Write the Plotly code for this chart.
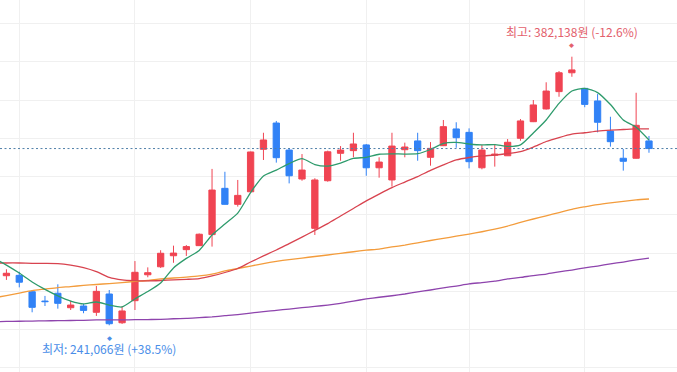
import plotly.graph_objects as go

# ---- candle data (index = trading day) ----
days = list(range(0, 51))
opens = [267100, 267300, 258700, 253800, 257900, 250300, 251200, 247900, 257500, 242400,
         254000, 267600, 271800, 277600, 280800, 282900, 288700, 313000, 304600, 311200,
         333500, 347300, 333100, 317900, 292000, 317000, 331400, 332800, 335800, 323800,
         317400, 333300, 337900, 329300, 335400, 344200, 342400, 323800, 330400, 330100,
         339300, 348000, 354700, 363800, 373700, 365500, 358900, 343100, 328800, 328800,
         337900]
highs = [270500, 269200, 259600, 256500, 262600, 254000, 252300, 261700, 259600, 251200,
         274800, 271500, 280500, 282900, 283200, 289300, 323200, 321700, 317400, 332300,
         342200, 348400, 334000, 331000, 318300, 332800, 335200, 342200, 336300, 329300,
         342200, 337000, 342200, 337300, 348900, 347700, 344500, 335800, 336300, 338900,
         349400, 359400, 368700, 374600, 382138, 365700, 362500, 350600, 333700, 363200,
         340500]
lows = [264900, 261000, 247900, 251200, 249800, 249100, 247400, 246000, 241066, 241800,
        249100, 266300, 271200, 273900, 277500, 282700, 282400, 304500, 303400, 310800,
        327900, 326500, 315600, 317000, 288500, 316500, 327500, 329300, 319600, 318600,
        313900, 329300, 327500, 324900, 335200, 334300, 323500, 323000, 324400, 330000,
        338000, 347800, 354400, 361100, 371600, 355600, 342400, 334900, 322300, 328600,
        331700]
closes = [268400, 263700, 250500, 253500, 252600, 251700, 248900, 258900, 241900, 248600,
          268900, 268700, 278900, 279000, 282400, 288900, 312100, 304600, 309300, 332100,
          338400, 329100, 319600, 322600, 317400, 332200, 333100, 336300, 323800, 326800,
          335200, 334700, 332800, 334000, 345400, 339600, 327000, 333100, 330900, 337200,
          348400, 356800, 364100, 373700, 375200, 357100, 347700, 337500, 327200, 346100,
          333900]

# ---- moving averages (index -1 .. 50) ----
ma_days = list(range(-1, 51))
ma5 = [276400, 272700, 268500, 263800, 259900, 256500, 253800, 252300, 253300, 251700,
       250700, 254900, 258800, 263300, 271200, 276200, 280400, 288500, 294300, 300000,
       310800, 319500, 322600, 326000, 328600, 325500, 324700, 326300, 328700, 329300,
       330900, 331100, 331000, 331200, 333400, 336600, 337100, 336300, 335800, 336000,
       335000, 335800, 342100, 348900, 357600, 364100, 365500, 363300, 357000, 348900,
       345100, 338400]
ma20 = [273800, 273800, 273800, 273600, 273600, 273500, 272700, 271400, 269300, 266200,
        264900, 264500, 264400, 264600, 264900, 265200, 265600, 267000, 268800, 270900,
        274300, 277500, 280600, 284000, 287400, 290900, 294500, 298500, 302400, 306400,
        310000, 313400, 316300, 319200, 322400, 325300, 327900, 329200, 330000, 330500,
        331300, 332300, 334700, 337600, 339700, 341500, 342200, 343100, 343600, 343900,
        344200, 344200]
ma60 = [255400, 256700, 258000, 259300, 260100, 260900, 261400, 262000, 262500, 263000,
        263500, 264100, 264600, 265400, 265900, 266400, 267000, 268000, 269600, 270900,
        272200, 273500, 274600, 275600, 276400, 277200, 278000, 278900, 279700, 280500,
        281100, 282200, 283200, 284400, 285600, 286700, 287900, 289000, 290200, 291600,
        293200, 295100, 296900, 298600, 300300, 302000, 303300, 304500, 305400, 306200,
        306900, 307400]
ma120 = [242900, 243100, 243200, 243300, 243400, 243500, 243600, 243700, 243900, 243900,
         243900, 244000, 244100, 244200, 244500, 244700, 245100, 245500, 246100, 246700,
         247500, 248300, 248900, 249600, 250300, 251000, 251700, 252600, 253800, 254900,
         255800, 256600, 257500, 258600, 259600, 260700, 261700, 262800, 263500, 264300,
         265400, 266200, 267200, 268000, 269100, 270100, 271200, 272200, 273300, 274300,
         275400, 276400]

current_price = 333900
high_idx, high_val = 44, 382138
low_idx, low_val = 8, 241066
high_label = "최고: 382,138원 (-12.6%)"
low_label = "최저: 241,066원 (+38.5%)"
grid_days = [1, 10, 19, 28, 36, 45]

RED = "#f04452"
BLUE = "#3182f6"

fig = go.Figure()

for vals, col in [(ma120, "#8e44ad"), (ma60, "#f39c3c"), (ma20, "#d8434f"), (ma5, "#2e9b6c")]:
    fig.add_trace(go.Scatter(x=ma_days, y=vals, mode="lines",
                             line=dict(color=col, width=1.3, shape="spline", smoothing=0.6),
                             hoverinfo="skip"))

fig.add_trace(go.Candlestick(
    x=days, open=opens, high=highs, low=lows, close=closes,
    increasing=dict(line=dict(color=RED, width=1), fillcolor=RED),
    decreasing=dict(line=dict(color=BLUE, width=1), fillcolor=BLUE),
    whiskerwidth=0,
))

fig.add_shape(type="line", xref="paper", x0=0, x1=1, yref="y",
              y0=current_price, y1=current_price,
              line=dict(color="#4f7fa8", width=1, dash="2px,2.5px"))

font_family = "Noto Sans CJK KR, Noto Sans, sans-serif"
fig.add_annotation(x=high_idx, y=high_val, text=high_label, showarrow=False,
                   yshift=25, font=dict(family=font_family, size=12, color="#e3606c"))
fig.add_annotation(x=high_idx, y=high_val, text="◆", showarrow=False,
                   yshift=12, font=dict(family=font_family, size=5, color="#e3606c"))
fig.add_annotation(x=low_idx, y=low_val, text=low_label, showarrow=False,
                   yshift=-23, font=dict(family=font_family, size=12, color="#4a8ee8"))
fig.add_annotation(x=low_idx, y=low_val, text="◆", showarrow=False,
                   yshift=-12, font=dict(family=font_family, size=5, color="#4a8ee8"))

fig.update_layout(
    width=677, height=372,
    margin=dict(l=0, r=0, t=0, b=0),
    paper_bgcolor="white", plot_bgcolor="white",
    showlegend=False,
    boxgap=0.3,
    xaxis=dict(range=[-0.5, 52.18], tickvals=grid_days, showticklabels=False,
               showgrid=True, gridcolor="#f0f0f0", zeroline=False,
               rangeslider=dict(visible=False), fixedrange=True),
    yaxis=dict(range=[216540, 411920], tick0=399600, dtick=20100,
               showticklabels=False, showgrid=True, gridcolor="#f0f0f0",
               zeroline=False, fixedrange=True),
)

fig.write_html("out.html", config={"displayModeBar": False},
               post_script="document.body.style.margin='0';document.body.style.overflow='hidden';")
